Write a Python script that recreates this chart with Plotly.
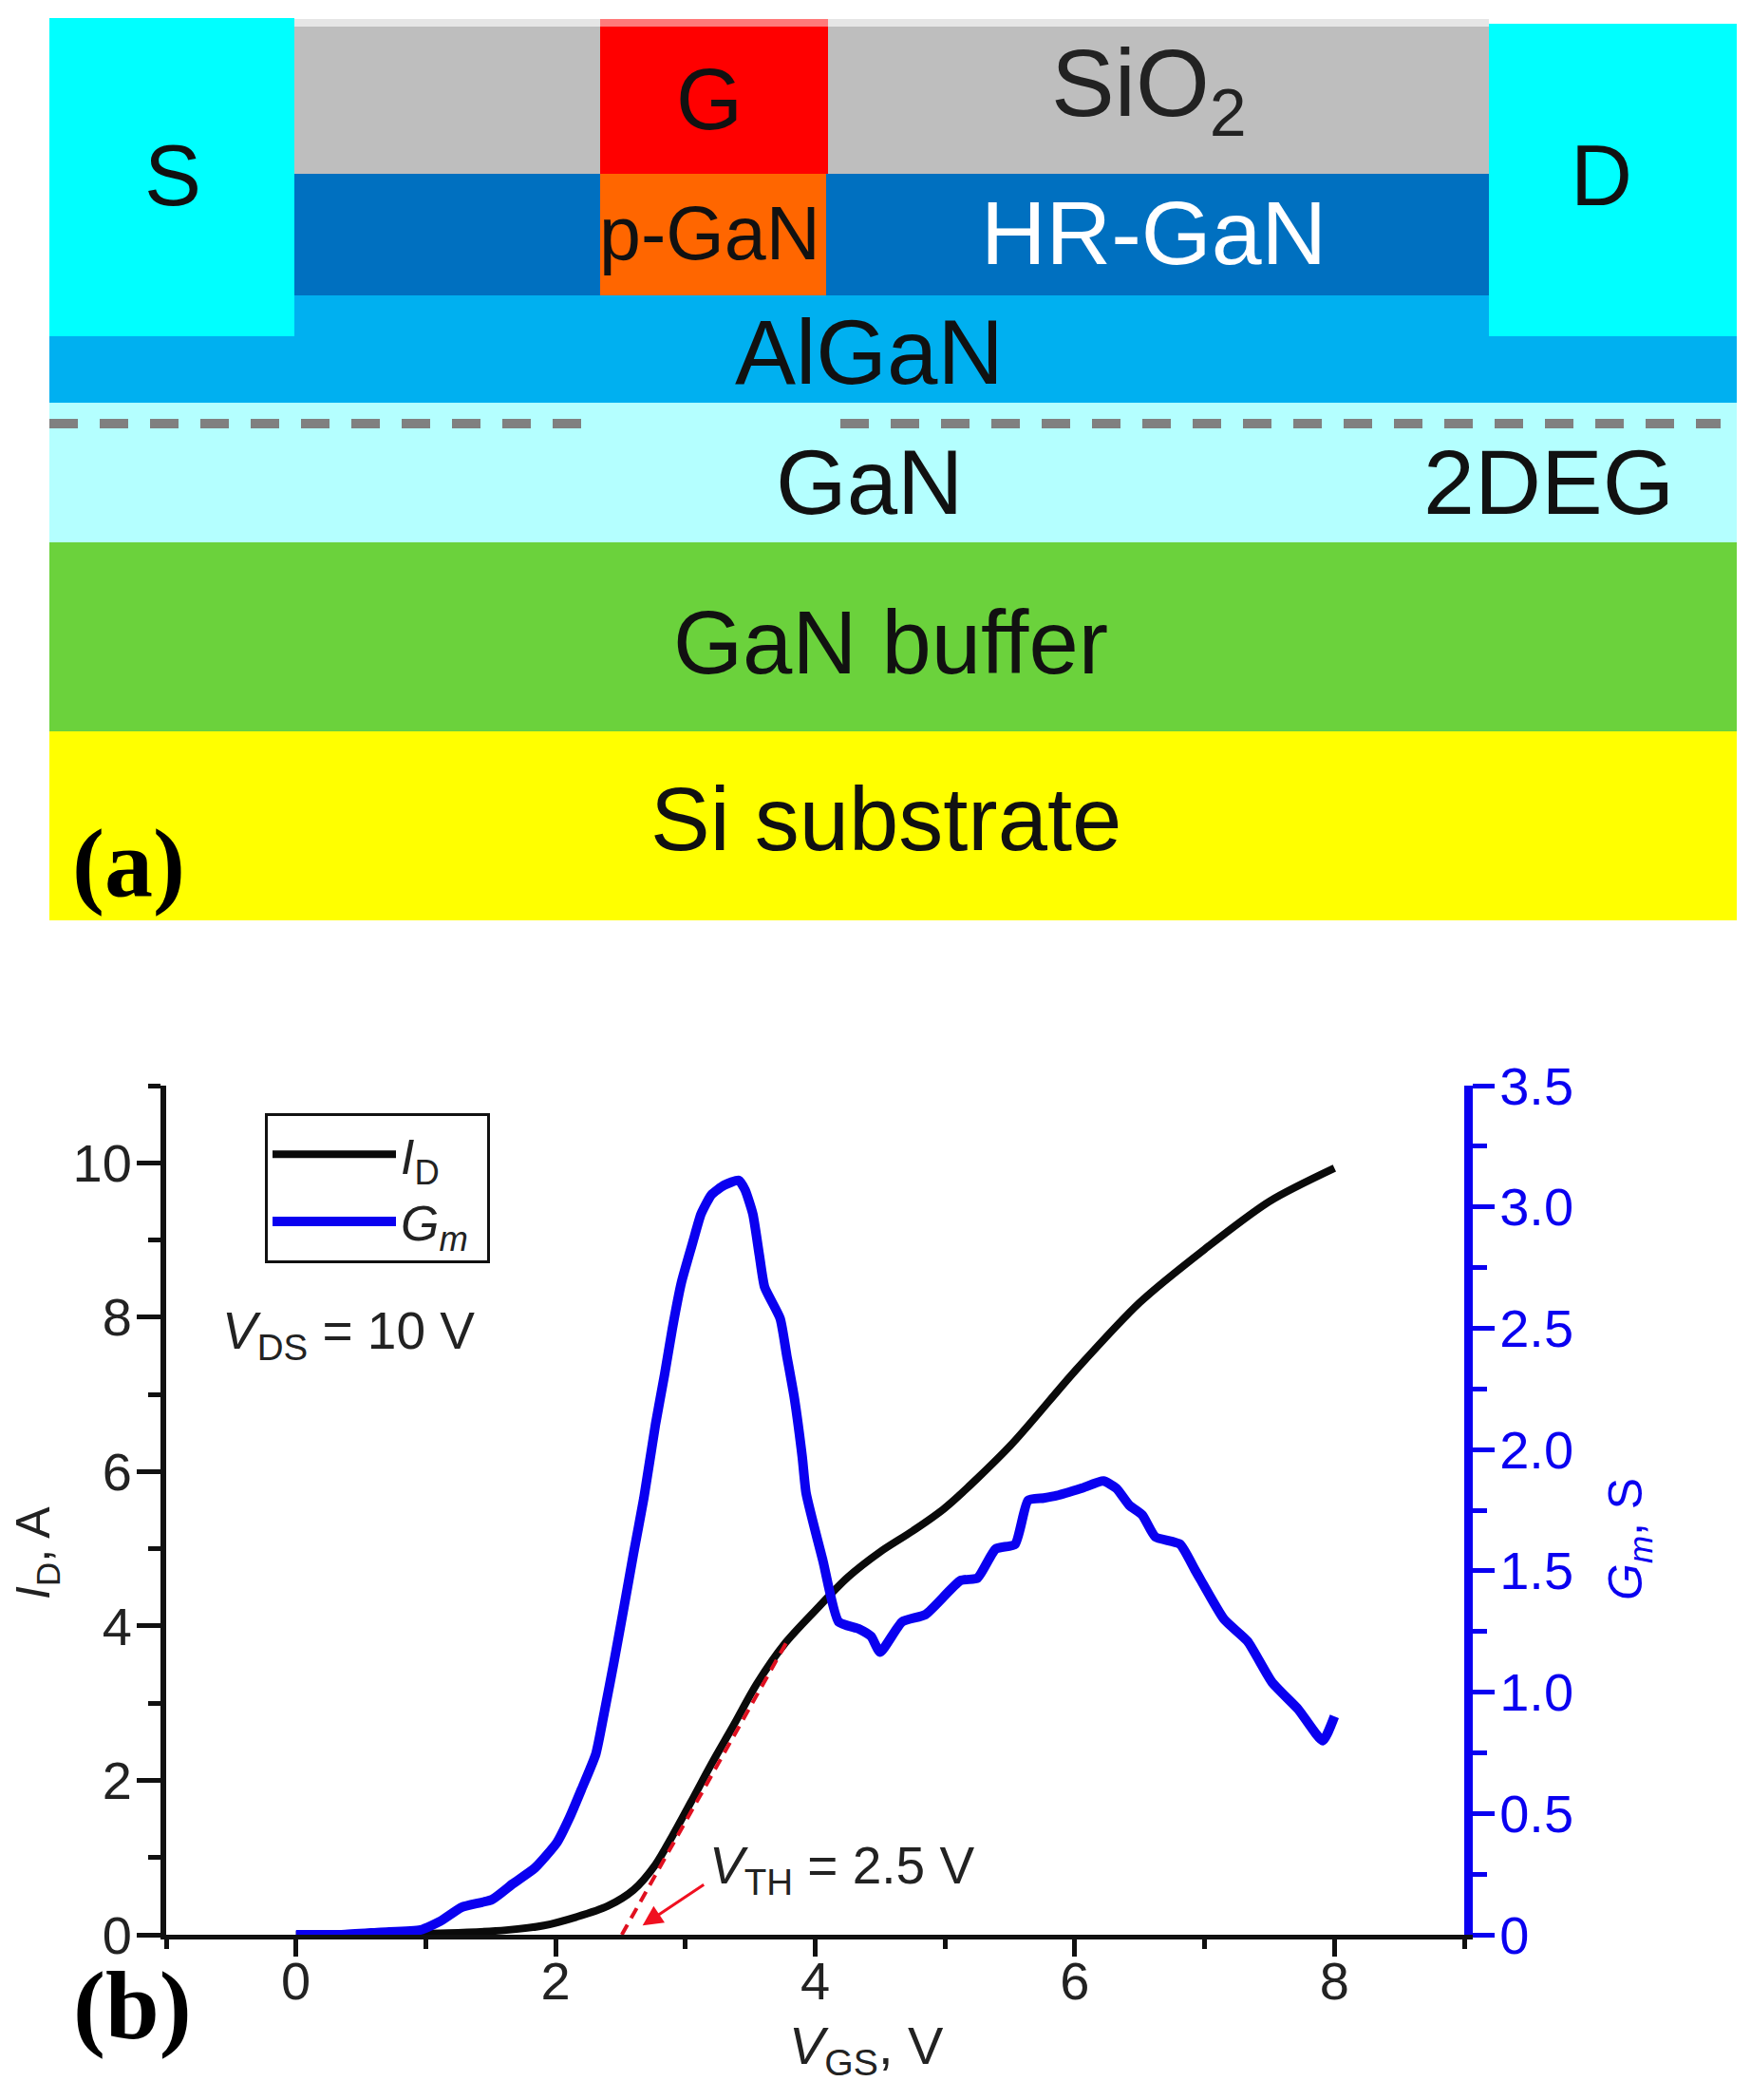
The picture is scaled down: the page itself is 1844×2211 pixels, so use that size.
import plotly.graph_objects as go

# (b) transfer curves
vgs_id = [0, 0.5, 1.17, 1.62, 1.91, 2.16, 2.4, 2.6, 2.77, 2.9, 3.04, 3.2, 3.37, 3.55, 3.77, 4, 4.25, 4.5, 4.75, 5, 5.5, 6, 6.5, 7, 7.5, 8]
id_vals = [0, 0, 0.02, 0.06, 0.12, 0.23, 0.37, 0.58, 0.91, 1.28, 1.71, 2.21, 2.71, 3.25, 3.78, 4.2, 4.63, 4.96, 5.23, 5.53, 6.33, 7.3, 8.19, 8.88, 9.5, 9.93]
vgs_gm = [0, 0.35, 0.65, 0.96, 1.11, 1.28, 1.51, 1.67, 1.84, 2.01, 2.11, 2.2, 2.31, 2.38, 2.45, 2.53, 2.6, 2.68, 2.77, 2.84, 2.9, 2.97,
          3.06, 3.12, 3.2, 3.3, 3.41, 3.46, 3.52, 3.57, 3.61, 3.73, 3.78, 3.84, 3.9, 3.93, 4.06, 4.18, 4.34, 4.43, 4.5, 4.67, 4.85,
          5.12, 5.25, 5.39, 5.54, 5.64, 5.76, 5.86, 6.05, 6.22, 6.32, 6.42, 6.52, 6.62, 6.81, 6.93, 7.15, 7.33, 7.52, 7.72, 7.91, 8.0]
gm_vals = [0, 0, 0.01, 0.02, 0.055, 0.114, 0.145, 0.21, 0.275, 0.38, 0.486, 0.6, 0.745, 0.93, 1.125, 1.36, 1.57, 1.8, 2.105, 2.31, 2.5, 2.69,
           2.86, 2.97, 3.05, 3.09, 3.11, 3.07, 2.97, 2.8, 2.67, 2.54, 2.39, 2.21, 1.97, 1.82, 1.54, 1.29, 1.26, 1.23, 1.165, 1.29, 1.32,
           1.46, 1.47, 1.59, 1.61, 1.79, 1.8, 1.81, 1.84, 1.87, 1.84, 1.77, 1.73, 1.64, 1.61, 1.5, 1.3, 1.21, 1.04, 0.93, 0.8, 0.9]
tangent_x = [2.51, 3.78]
tangent_y = [0, 3.79]

x_ticks = [0, 2, 4, 6, 8]
id_ticks = [0, 2, 4, 6, 8, 10]
gm_ticks = [0, 0.5, 1.0, 1.5, 2.0, 2.5, 3.0, 3.5]
gm_labels = ['0', '0.5', '1.0', '1.5', '2.0', '2.5', '3.0', '3.5']

# (a) device layers, in page pixels
layer_colors = ['#ffff00', '#6bd23c', '#b4ffff', '#00b0f0', '#0070c0', '#e6e6e6', '#bebebe', '#ff6600', '#ff7a7a', '#ff0000', '#00ffff', '#00ffff']
layer_x0 = [52, 52, 52, 52, 308, 308, 308, 632, 632, 632, 52, 1568]
layer_x1 = [1829, 1829, 1829, 1829, 1568, 1568, 1568, 870, 872, 872, 310, 1829]
layer_y0 = [770, 571, 424, 311, 183, 20, 28, 183, 20, 28, 19, 25]
layer_y1 = [969, 770, 571, 424, 311, 28, 183, 311, 28, 183, 354, 354]
layer_text = ['S', 'G', 'SiO<sub>2</sub>', 'D', 'p-GaN', 'HR-GaN', 'AlGaN', 'GaN', '2DEG', 'GaN buffer', 'Si substrate']
text_x = [182, 747, 1210, 1686, 747, 1215, 915, 915, 1631, 938, 933]
text_y = [185, 105, 94, 185, 245, 245, 370, 507, 507, 676, 862]
text_size = [90, 90, 100, 90, 79, 95, 96, 96, 97, 94, 94]
text_color = ['#111111', '#111111', '#222222', '#111111', '#111111', '#ffffff', '#111111', '#111111', '#111111', '#111111', '#111111']
channel_x0 = [52, 885]
channel_x1 = [612, 1812]

FONT = 'Liberation Sans'
W, H = 1844, 2211

fig = go.Figure()
fig.add_trace(go.Scatter(x=vgs_id, y=id_vals, mode='lines', name='<i>I</i><sub>D</sub>',
                         line=dict(color='#0a0a0a', width=8, shape='spline', smoothing=0.8)))
fig.add_trace(go.Scatter(x=tangent_x, y=tangent_y, mode='lines', showlegend=False,
                         line=dict(color='#e01020', width=4, dash='12px,8px')))
# trailing nbsp widens the legend box
fig.add_trace(go.Scatter(x=vgs_gm, y=gm_vals, mode='lines', name='<i>G</i><sub><i>m</i></sub>&nbsp;', yaxis='y2',
                         line=dict(color='#0a00f0', width=10, shape='spline', smoothing=0.5)))

# schematic
shapes = []
for c, x0, x1, y0, y1 in zip(layer_colors, layer_x0, layer_x1, layer_y0, layer_y1):
    shapes.append(dict(type='rect', xref='x3', yref='y3', x0=x0, x1=x1, y0=y0, y1=y1,
                       fillcolor=c, line=dict(width=0), layer='below'))
for x0, x1 in zip(channel_x0, channel_x1):
    shapes.append(dict(type='line', xref='x3', yref='y3', x0=x0, x1=x1, y0=446, y1=446,
                       line=dict(color='#808080', width=10, dash='30px,23px'), layer='below'))

annotations = []
for t, x, y, s, c in zip(layer_text, text_x, text_y, text_size, text_color):
    annotations.append(dict(text=t, x=x, y=y, xref='x3', yref='y3', showarrow=False,
                            font=dict(family=FONT, size=s, color=c)))

# panel letters and chart labels
for t, x, y in [('(a)', 135, 908), ('(b)', 139, 2111)]:
    annotations.append(dict(text='<b>%s</b>' % t, x=x, y=y, xref='x3', yref='y3', showarrow=False,
                            font=dict(family='Liberation Serif', size=102, color='black')))
for t, x, y, s, c, a in [('<i>I</i><sub>D</sub>, A', 38, 1635, 50, '#222222', -90),
                         ('<i>G</i><sub><i>m</i></sub>, S', 1715, 1621, 50, '#0a00f0', -90),
                         ('<i>V</i><sub>GS</sub>, V', 912, 2157, 56, '#222222', 0),
                         ('<i>V</i><sub>DS</sub> = 10 V', 367, 1405, 55, '#222222', 0),
                         ('<i>V</i><sub>TH</sub> = 2.5 V', 886, 1968, 55, '#222222', 0)]:
    annotations.append(dict(text=t, x=x, y=y, xref='x3', yref='y3', showarrow=False, textangle=a,
                            font=dict(family=FONT, size=s, color=c)))
annotations.append(dict(x=2.67, y=0.12, xref='x', yref='y', text='', ax=66, ay=-44, axref='pixel', ayref='pixel',
                        showarrow=True, arrowhead=2, arrowsize=1.4, arrowwidth=3, arrowcolor='#f01020'))

fig.update_layout(
    width=W, height=H, autosize=False, margin=dict(l=0, r=0, t=0, b=0),
    paper_bgcolor='white', plot_bgcolor='rgba(0,0,0,0)',
    font=dict(family=FONT, size=56, color='#222222'),
    shapes=shapes, annotations=annotations,
    legend=dict(x=279 / W, y=1 - 1172 / H, xanchor='left', yanchor='top', bgcolor='white',
                bordercolor='#111111', borderwidth=3, itemwidth=130, tracegroupgap=0,
                font=dict(family=FONT, size=52, color='#222222')),
    xaxis=dict(domain=[175 / W, 1542 / W], range=[-1, 9], anchor='y', automargin=False, tickvals=x_ticks, showgrid=False, zeroline=False,
               showline=True, linecolor='#111111', linewidth=5, ticks='outside', ticklen=18, tickwidth=5, tickcolor='#111111',
               ticklabelstandoff=-22,
               minor=dict(dtick=1, tick0=0, ticks='outside', ticklen=10, tickwidth=5, tickcolor='#111111')),
    yaxis=dict(domain=[1 - 2037 / H, 1 - 1143 / H], range=[0, 11], automargin=False, tickvals=id_ticks, showgrid=False, zeroline=False,
               showline=True, linecolor='#111111', linewidth=6, ticks='outside', ticklen=25, tickwidth=5, tickcolor='#111111',
               ticklabelstandoff=-6,
               minor=dict(dtick=1, tick0=0, ticks='outside', ticklen=13, tickwidth=5, tickcolor='#111111')),
    yaxis2=dict(overlaying='y', side='right', anchor='x', range=[0, 3.5], automargin=False, tickvals=gm_ticks, ticktext=gm_labels,
                showgrid=False, zeroline=False, showline=True, linecolor='#0a00f0', linewidth=9,
                ticks='outside', ticklen=23, tickwidth=5, tickcolor='#0a00f0', tickfont=dict(color='#0a00f0', size=56),
                ticklabelstandoff=-6,
                minor=dict(dtick=0.25, tick0=0, ticks='outside', ticklen=15, tickwidth=5, tickcolor='#0a00f0')),
    xaxis3=dict(domain=[0, 1], range=[0, W], visible=False, anchor='y3', fixedrange=True, automargin=False),
    yaxis3=dict(domain=[0, 1], range=[H, 0], visible=False, anchor='x3', fixedrange=True, automargin=False),
)

fig.write_html("out.html", config={'displayModeBar': False}, post_script="document.body.style.margin='0';")
